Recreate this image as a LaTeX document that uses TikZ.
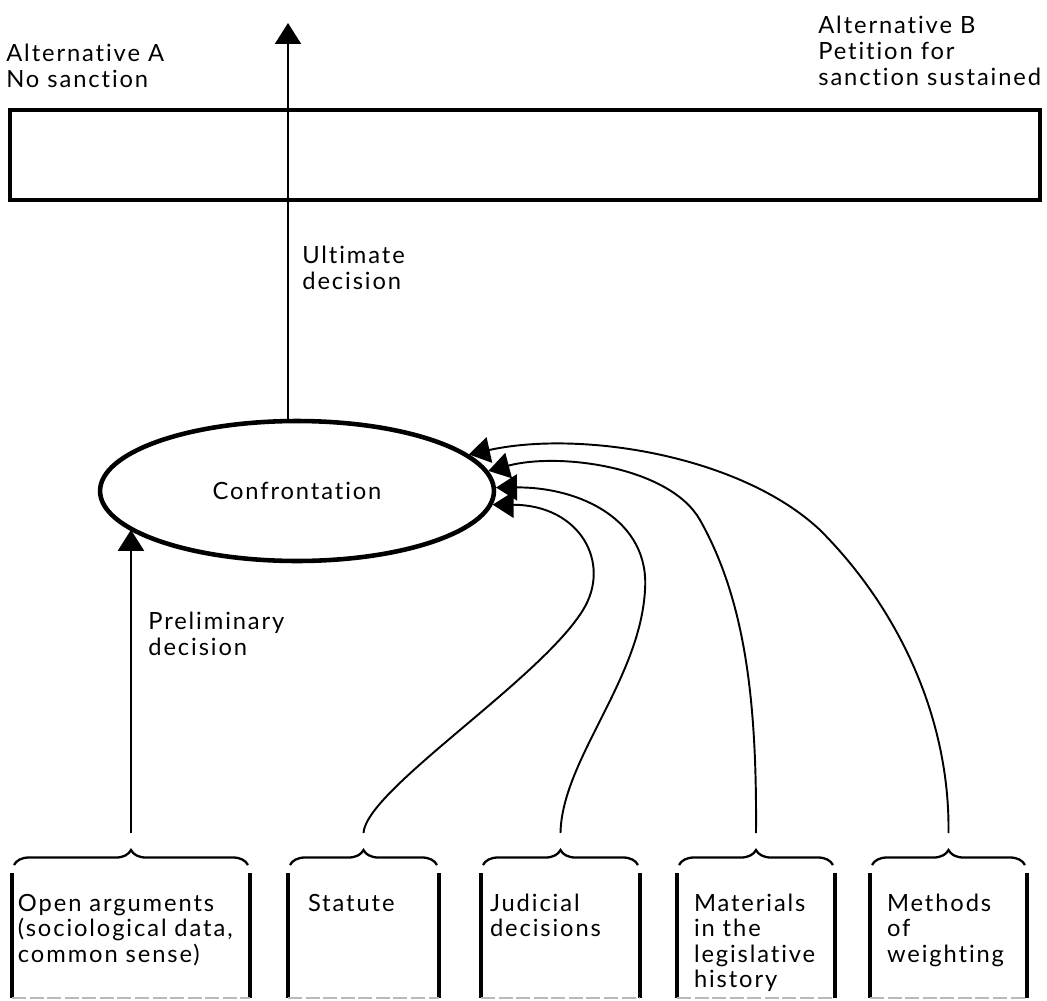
\documentclass[tikz,border=0pt]{standalone}
\usepackage{fontspec}
\setmainfont{Lato}[LetterSpace=8, Ligatures=NoCommon]
\usetikzlibrary{positioning,shapes.geometric,arrows.meta,decorations.pathreplacing,calc}

\tikzset{
    labeltext/.style={align=left, inner sep=0pt, anchor=north west, font=\fontsize{13.5}{14.8}\selectfont},
    thickframe/.style={draw, line width=2.6pt},
    flow/.style={line width=1.1pt, -{Triangle[length=0.42cm, width=0.52cm]}},
    sidebar/.style={line width=2.4pt},
    bracket/.style={line width=1.3pt, decorate, decoration={brace, amplitude=0.3cm}},
    source/.style={anchor=north west, align=left, inner ysep=0pt, outer sep=0pt,
        text height=0.76cm, font=\fontsize{13.5}{14.6}\selectfont},
}

\begin{document}
\begin{tikzpicture}[x=0.02cm, y=-0.02cm]
    \useasboundingbox (0,0) rectangle (1047,1000);

    % Alternativas arriba
    \node[labeltext] (altA) at (6,44) {Alternative A\\No sanction};
    \node[labeltext] (altB) at (818,16) {Alternative B\\Petition for\\sanction sustained};
    \node[thickframe, minimum width=20.6cm, minimum height=1.8cm, inner sep=0pt] (range) at (525,155) {};

    % Confrontación
    \node[ellipse, thickframe, minimum width=7.88cm, minimum height=2.8cm,
        font=\fontsize{13.5}{14.8}\selectfont] (conf) at (297,491) {Confrontation};
    \node[labeltext] (ultlab) at (302,246) {Ultimate\\decision};
    \node[labeltext] (prelab) at (148,612) {Preliminary\\decision};

    % Fuentes abajo
    \node[source, inner xsep=0.12cm, text width=4.52cm] (open) at (12,873)
        {Open arguments\\(sociological data,\\common sense)};
    \node[source, inner xsep=0.40cm, text width=2.22cm] (statute) at (288,873) {Statute};
    \node[source, inner xsep=0.18cm, text width=2.82cm] (judicial) at (481,873) {Judicial\\decisions};
    \node[source, inner xsep=0.34cm, text width=2.48cm] (materials) at (677,873)
        {Materials\\in the\\legislative\\history};
    \node[source, inner xsep=0.34cm, text width=2.46cm] (methods) at (870,873) {Methods\\of\\weighting};
    \coordinate (floor) at (0,998);

    \foreach \b in {open,statute,judicial,materials,methods} {
        \draw[sidebar] (\b.north west) -- (\b.north west |- floor);
        \draw[sidebar] (\b.north east) -- (\b.north east |- floor);
        \draw[bracket] ($(\b.north west)+(2,-8)$) -- ($(\b.north east)+(-2,-8)$);
        \draw[gray!55, line width=0.7pt, dash pattern=on 8pt off 2pt]
            (\b.north west |- floor) -- (\b.north east |- floor);
    }

    % Flechas
    \coordinate (ulttip) at (288,23);
    \draw[flow] (ulttip |- conf.north) -- (ulttip);
    \draw[flow] ([yshift=0.8cm]open.north) -- (open.north |- conf.193);
    \draw[flow] ([yshift=0.8cm]statute.north) .. controls (366,790) and (540,680) .. (583,610)
        .. controls (612,563) and (580,505) .. (conf.-4);
    \draw[flow] ([yshift=0.8cm]judicial.north) .. controls (562,760) and (640,680) .. (645,590)
        .. controls (650,520) and (580,487) .. (conf.1);
    \draw[flow] ([yshift=0.8cm]materials.north) .. controls (757,700) and (745,600) .. (700,520)
        .. controls (670,467) and (560,452) .. (conf.6);
    \draw[flow] ([yshift=0.8cm]methods.north) .. controls (950,720) and (900,610) .. (820,530)
        .. controls (740,455) and (580,430) .. (conf.12);
\end{tikzpicture}
\end{document}
